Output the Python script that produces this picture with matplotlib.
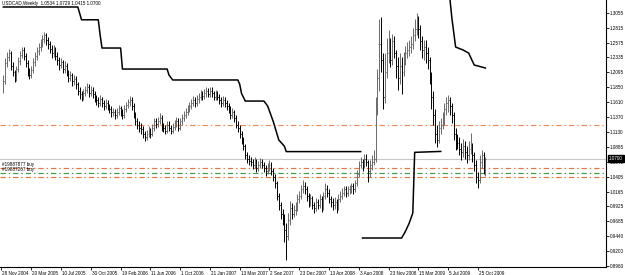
import numpy as np
import matplotlib
matplotlib.use("Agg")
import matplotlib.pyplot as plt
import matplotlib.transforms as mtransforms

# ---------------- data ----------------
date_labels = ["28 Nov 2004", "20 Mar 2005", "10 Jul 2005", "30 Oct 2005", "19 Feb 2006",
               "11 Jun 2006", "1 Oct 2006", "21 Jan 2007", "13 May 2007", "2 Sep 2007",
               "23 Dec 2007", "13 Apr 2008", "3 Aug 2008", "23 Nov 2008", "15 Mar 2009",
               "5 Jul 2009", "25 Oct 2009"]
label_weeks = list(range(0, 257, 16))

first_open = 1.180
closes = [
    1.195, 1.225, 1.235, 1.240, 1.220, 1.210, 1.200, 1.215, 1.228, 1.238,
    1.245, 1.236, 1.224, 1.210, 1.205, 1.214, 1.226, 1.236, 1.244, 1.250,
    1.256, 1.264, 1.270, 1.262, 1.255, 1.248, 1.240, 1.246, 1.236, 1.230,
    1.222, 1.226, 1.215, 1.220, 1.210, 1.201, 1.205, 1.195, 1.199, 1.190,
    1.180, 1.174, 1.170, 1.176, 1.181, 1.186, 1.176, 1.181, 1.174, 1.168,
    1.164, 1.160, 1.166, 1.160, 1.155, 1.160, 1.154, 1.150, 1.145, 1.146,
    1.140, 1.146, 1.151, 1.145, 1.140, 1.150, 1.156, 1.161, 1.165, 1.155,
    1.142, 1.131, 1.125, 1.120, 1.118, 1.110, 1.105, 1.110, 1.116, 1.110,
    1.120, 1.130, 1.126, 1.131, 1.136, 1.121, 1.119, 1.115, 1.125, 1.120,
    1.115, 1.121, 1.126, 1.131, 1.120, 1.130, 1.136, 1.141, 1.146, 1.150,
    1.155, 1.160, 1.165, 1.160, 1.166, 1.170, 1.175, 1.171, 1.176, 1.180,
    1.175, 1.180, 1.176, 1.170, 1.175, 1.170, 1.165, 1.160, 1.165, 1.160,
    1.155, 1.150, 1.140, 1.145, 1.135, 1.125, 1.120, 1.110, 1.100, 1.090,
    1.076, 1.070, 1.066, 1.065, 1.060, 1.066, 1.055, 1.060, 1.065, 1.060,
    1.055, 1.050, 1.056, 1.060, 1.050, 1.040, 1.030, 1.010, 0.995, 0.980,
    0.975, 0.955, 0.945, 0.970, 0.990, 0.980, 0.986, 0.990, 1.005, 1.010,
    1.020, 1.025, 1.020, 1.010, 1.000, 1.006, 0.995, 0.990, 1.000, 0.995,
    1.005, 0.990, 1.010, 1.020, 1.015, 1.005, 1.000, 0.995, 1.000, 0.990,
    1.005, 1.010, 1.015, 1.020, 1.015, 1.020, 1.020, 1.025, 1.020, 1.030,
    1.045, 1.060, 1.065, 1.060, 1.070, 1.065, 1.050, 1.060, 1.065, 1.070,
    1.160, 1.200, 1.255, 1.230, 1.170, 1.210, 1.240, 1.250, 1.230, 1.260,
    1.240, 1.220, 1.200, 1.220, 1.210, 1.230, 1.240, 1.245, 1.250, 1.255,
    1.270, 1.280, 1.290, 1.280, 1.260, 1.245, 1.250, 1.240, 1.230, 1.200,
    1.170, 1.140, 1.110, 1.100, 1.120, 1.125, 1.130, 1.150, 1.160, 1.165,
    1.155, 1.140, 1.110, 1.100, 1.095, 1.085, 1.080, 1.090, 1.080, 1.075,
    1.085, 1.090, 1.075, 1.060, 1.040, 1.035, 1.065, 1.075, 1.0534, 1.0700,
]
highs = [
    1.205, 1.232, 1.243, 1.247, 1.244, 1.226, 1.214, 1.220, 1.234, 1.244,
    1.251, 1.250, 1.240, 1.229, 1.216, 1.219, 1.232, 1.242, 1.250, 1.257,
    1.263, 1.270, 1.274, 1.273, 1.266, 1.260, 1.253, 1.254, 1.250, 1.242,
    1.235, 1.233, 1.230, 1.227, 1.224, 1.214, 1.212, 1.209, 1.205, 1.203,
    1.194, 1.185, 1.180, 1.182, 1.188, 1.193, 1.190, 1.187, 1.185, 1.179,
    1.173, 1.169, 1.172, 1.170, 1.165, 1.166, 1.164, 1.159, 1.155, 1.152,
    1.150, 1.151, 1.157, 1.155, 1.150, 1.156, 1.162, 1.167, 1.171, 1.169,
    1.160, 1.146, 1.136, 1.130, 1.127, 1.123, 1.115, 1.116, 1.122, 1.120,
    1.126, 1.136, 1.136, 1.138, 1.143, 1.140, 1.127, 1.124, 1.130, 1.131,
    1.125, 1.127, 1.132, 1.137, 1.135, 1.136, 1.142, 1.147, 1.152, 1.157,
    1.161, 1.166, 1.171, 1.170, 1.172, 1.176, 1.181, 1.180, 1.182, 1.186,
    1.184, 1.186, 1.186, 1.180, 1.181, 1.179, 1.175, 1.170, 1.171, 1.169,
    1.165, 1.160, 1.155, 1.151, 1.149, 1.140, 1.130, 1.124, 1.115, 1.105,
    1.094, 1.081, 1.075, 1.072, 1.070, 1.072, 1.070, 1.066, 1.071, 1.070,
    1.065, 1.060, 1.063, 1.068, 1.065, 1.055, 1.045, 1.034, 1.015, 1.000,
    0.988, 0.980, 0.965, 0.982, 1.002, 0.998, 0.995, 1.000, 1.012, 1.018,
    1.027, 1.035, 1.032, 1.025, 1.015, 1.013, 1.010, 1.000, 1.006, 1.005,
    1.012, 1.010, 1.016, 1.030, 1.027, 1.020, 1.010, 1.006, 1.008, 1.005,
    1.012, 1.018, 1.022, 1.026, 1.025, 1.026, 1.027, 1.030, 1.030, 1.036,
    1.052, 1.066, 1.072, 1.070, 1.077, 1.078, 1.068, 1.068, 1.075, 1.084,
    1.170, 1.215, 1.295, 1.299, 1.240, 1.240, 1.265, 1.278, 1.265, 1.272,
    1.268, 1.245, 1.235, 1.240, 1.235, 1.242, 1.252, 1.258, 1.262, 1.268,
    1.282, 1.295, 1.305, 1.300, 1.286, 1.268, 1.262, 1.262, 1.250, 1.235,
    1.210, 1.180, 1.150, 1.125, 1.130, 1.135, 1.145, 1.160, 1.170, 1.172,
    1.170, 1.160, 1.145, 1.120, 1.110, 1.105, 1.095, 1.102, 1.098, 1.090,
    1.098, 1.111, 1.095, 1.080, 1.068, 1.048, 1.075, 1.084, 1.080, 1.0729,
]
lows = [
    1.176, 1.190, 1.218, 1.228, 1.214, 1.203, 1.194, 1.196, 1.210, 1.222,
    1.232, 1.230, 1.218, 1.203, 1.198, 1.200, 1.209, 1.220, 1.230, 1.238,
    1.244, 1.250, 1.257, 1.254, 1.247, 1.240, 1.232, 1.235, 1.229, 1.222,
    1.214, 1.216, 1.208, 1.209, 1.203, 1.194, 1.196, 1.188, 1.189, 1.183,
    1.172, 1.167, 1.163, 1.165, 1.171, 1.176, 1.170, 1.171, 1.168, 1.161,
    1.157, 1.153, 1.155, 1.153, 1.148, 1.150, 1.148, 1.143, 1.138, 1.139,
    1.134, 1.135, 1.141, 1.139, 1.134, 1.136, 1.145, 1.151, 1.155, 1.149,
    1.136, 1.124, 1.118, 1.113, 1.110, 1.103, 1.099, 1.100, 1.105, 1.104,
    1.106, 1.115, 1.120, 1.121, 1.126, 1.115, 1.113, 1.109, 1.111, 1.114,
    1.109, 1.111, 1.116, 1.121, 1.114, 1.116, 1.125, 1.131, 1.136, 1.140,
    1.145, 1.150, 1.155, 1.154, 1.155, 1.160, 1.165, 1.165, 1.166, 1.170,
    1.169, 1.170, 1.170, 1.164, 1.165, 1.164, 1.159, 1.154, 1.155, 1.154,
    1.149, 1.144, 1.134, 1.135, 1.129, 1.119, 1.113, 1.104, 1.093, 1.083,
    1.070, 1.063, 1.059, 1.058, 1.053, 1.055, 1.049, 1.050, 1.055, 1.054,
    1.048, 1.042, 1.045, 1.050, 1.044, 1.033, 1.022, 1.003, 0.986, 0.972,
    0.962, 0.935, 0.906, 0.938, 0.962, 0.972, 0.975, 0.978, 0.985, 0.998,
    1.004, 1.014, 1.012, 1.002, 0.992, 0.994, 0.988, 0.982, 0.985, 0.988,
    0.990, 0.983, 0.986, 1.005, 1.008, 0.998, 0.992, 0.987, 0.988, 0.982,
    0.986, 1.000, 1.004, 1.009, 1.008, 1.009, 1.012, 1.014, 1.013, 1.016,
    1.026, 1.040, 1.054, 1.050, 1.054, 1.058, 1.032, 1.040, 1.052, 1.060,
    1.065, 1.140, 1.180, 1.210, 1.150, 1.160, 1.200, 1.225, 1.218, 1.222,
    1.232, 1.200, 1.181, 1.190, 1.175, 1.203, 1.222, 1.232, 1.236, 1.240,
    1.248, 1.260, 1.270, 1.265, 1.245, 1.232, 1.230, 1.225, 1.215, 1.190,
    1.150, 1.125, 1.095, 1.089, 1.095, 1.110, 1.118, 1.125, 1.140, 1.145,
    1.140, 1.128, 1.100, 1.084, 1.085, 1.075, 1.068, 1.072, 1.070, 1.063,
    1.068, 1.078, 1.065, 1.050, 1.030, 1.022, 1.030, 1.055, 1.045, 1.0415,
]
weeks = list(range(1, len(closes) + 1))

# trailing stop indicator line (week, price); NaN separates segments
stop_weeks = [1, 41, 42, 43, 52, 53, 54, 64, 65, 89, 90, 92, 127, 128, 129, 131,
              141, 143, 146, 149, 152, 153, 193, np.nan,
              194, 215, 217, 219, 221, 222, 236, np.nan,
              240, 241, 242, 244, 248, 251, 254, 260]
stop_prices = [1.3152, 1.3152, 1.305, 1.2945, 1.2945, 1.270, 1.2488, 1.2488, 1.2148, 1.2148,
               1.205, 1.1971, 1.1971, 1.190, 1.175, 1.163, 1.163, 1.155, 1.130, 1.100,
               1.090, 1.0812, 1.0812, np.nan,
               0.9414, 0.9414, 0.952, 0.965, 0.9819, 1.080, 1.0815, np.nan,
               1.356, 1.3265, 1.297, 1.2504, 1.2456, 1.2407, 1.2213, 1.2165]

order_levels = [1.1243, 1.0542, 1.0471, 1.0406]
order_colors = ["#f08a55", "#e8743b", "#3f9a4a", "#e8743b"]
order_texts = ["#19887877 buy", "#19887267 buy"]
order_text_prices = [1.0611, 1.0530]
bid_price = 1.0700
ohlc_title = "USDCAD,Weekly  1.0534 1.0729 1.0415 1.0700"
ytick_values = [1.3055, 1.2815, 1.2575, 1.2335, 1.2095, 1.1850, 1.1610, 1.1370, 1.1130,
                1.0885, 1.0645, 1.0405, 1.0165, 0.9925, 0.9685, 0.9440, 0.9200, 0.8960]

# ---------------- plot ----------------
FONT = "Liberation Sans"
FS = 3.3
fig = plt.figure(figsize=(6.25, 2.75), dpi=100, facecolor="white")
ax = fig.add_axes([0.0, 0.0273, 606 / 625, 1 - 0.0273])
ax.set_facecolor("white")

opens = [first_open] + closes[:-1]
w = np.array(weeks, dtype=float)
o = np.array(opens); c = np.array(closes); h = np.array(highs); l = np.array(lows)
col = np.where(c >= o, "#6a6a6a", "#000000")
ax.vlines(w, l, h, colors=col, linewidth=0.7, zorder=3)
ax.hlines(o, w - 0.45, w, colors=col, linewidth=0.6, zorder=3)
ax.hlines(c, w, w + 0.45, colors=col, linewidth=0.6, zorder=3)

ax.plot(stop_weeks, stop_prices, color="black", linewidth=1.1, zorder=4)

ax.axhline(bid_price, color="#c8c8c8", linewidth=0.8, zorder=1)
for lev, cc in zip(order_levels, order_colors):
    ax.axhline(lev, color=cc, linewidth=0.85, linestyle=(0, (4.5, 2.5, 1.2, 2.5)), zorder=2)
for t, p in zip(order_texts, order_text_prices):
    ax.text(0.5, p, t, fontsize=FS, family=FONT, va="center", ha="left", color="black", zorder=5)

ax.text(0.003, 0.995, ohlc_title, transform=ax.transAxes, fontsize=FS, family=FONT,
        va="top", ha="left", color="black")

ax.set_xlim(-0.8, 324.8)
ax.set_ylim(0.8937, 1.3265)

ax.yaxis.tick_right()
ax.set_yticks(ytick_values)
ax.set_yticklabels([f"{v:.4f}" for v in ytick_values], fontsize=FS, family=FONT)
ax.set_xticks(label_weeks)
ax.set_xticklabels(date_labels, fontsize=FS, family=FONT, ha="left")
ax.tick_params(axis="both", direction="out", length=2, width=0.6, pad=1, colors="black")
ax.tick_params(axis="x", pad=0.8)
for lab in ax.get_xticklabels():
    lab.set_transform(lab.get_transform() + mtransforms.ScaledTranslation(1 / 100, 0, fig.dpi_scale_trans))

for s in ["left", "top"]:
    ax.spines[s].set_visible(False)
for s in ["right", "bottom"]:
    ax.spines[s].set_linewidth(0.8)
    ax.spines[s].set_color("black")

# current price box on the right axis
trans = mtransforms.blended_transform_factory(ax.transAxes, ax.transData)
ax.text(1.0 + 3 / 606, bid_price, f"{bid_price:.4f}", transform=trans, fontsize=FS, family=FONT,
        color="white", va="center", ha="left", zorder=10, clip_on=False,
        bbox=dict(boxstyle="square,pad=0.25", facecolor="black", edgecolor="black"))

fig.savefig("out.png", dpi=100, facecolor="white")
